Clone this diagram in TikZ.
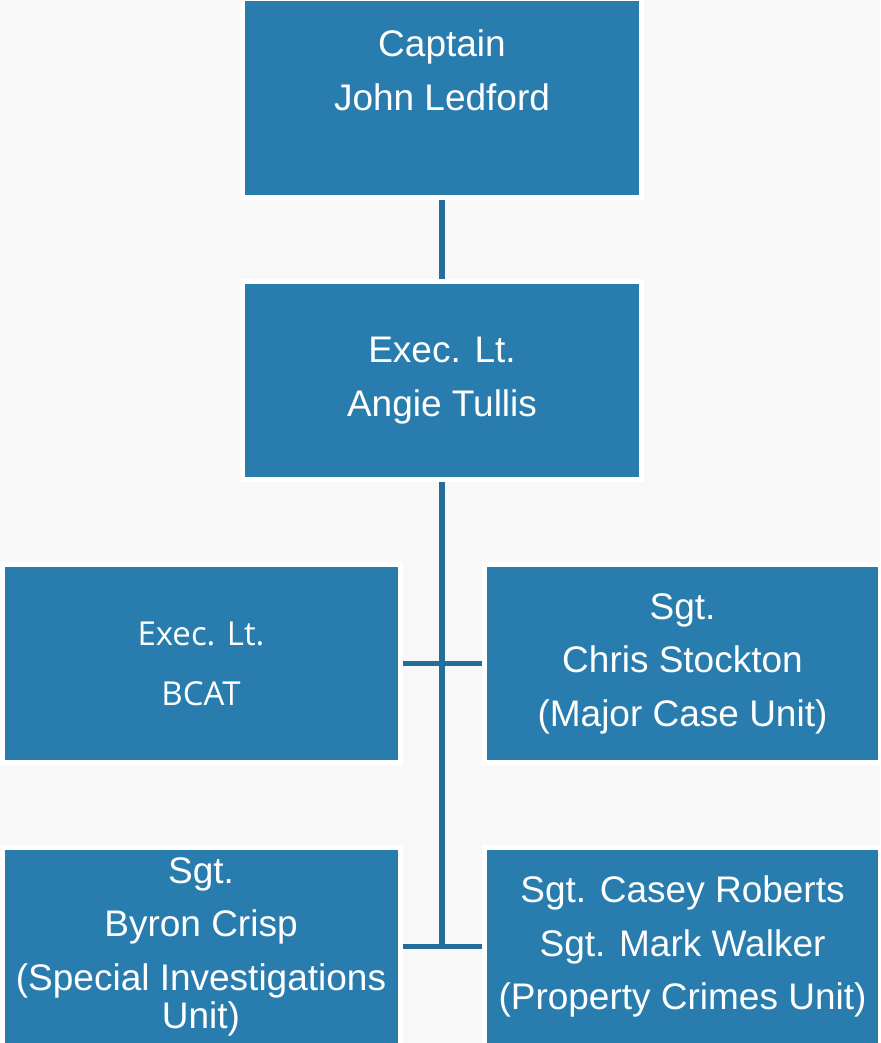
\documentclass[tikz,border=0pt]{standalone}
\usepackage{fontspec}
\setmainfont{Liberation Sans}
\newfontfamily\segoefont{Open Sans}
\usetikzlibrary{calc}
\definecolor{pagegray}{RGB}{248,248,248}
\definecolor{boxblue}{RGB}{41,125,174}
\definecolor{lineblue}{RGB}{35,110,155}
\tikzset{
  x=1pt, y=-1pt,
  orgbox/.style = {rectangle, align=center, inner sep=0pt, text centered, white,
    fill=boxblue, draw=white, line width=5pt,
    minimum width=399pt, minimum height=198pt,
    font=\fontsize{37}{53.5}\selectfont},
  orgbox_s/.style = {orgbox, minimum width=398pt,
    font=\segoefont\fontsize{33}{60}\selectfont},
  orglink/.style = {draw=lineblue, line width=5.5pt}
}
\begin{document}
\begin{tikzpicture}
	\useasboundingbox (0,0) rectangle (880,1043);
	\fill[pagegray] (0,0) rectangle (880,1043);
	% boxes
	\node [orgbox] (capt) at (442,98) {Captain\\John Ledford\\[-14pt]\strut};
	\node [orgbox] (exec) at (442,380.5) {Exec. Lt.\\Angie Tullis};
	\node [orgbox_s] (bcat) at (201,663.5) {Exec. Lt.\\BCAT};
	\node [orgbox, minimum width=396.5pt] (mcu) at (682.5,663.5) {Sgt.\\Chris Stockton\\(Major Case Unit)};
	\node [orgbox, minimum width=398pt] (siu) at (201,946.5) {Sgt.\\Byron Crisp\\(Special Investigations\\[-15.5pt]Unit)};
	\node [orgbox, minimum width=396.5pt] (pcu) at (682.5,946.5) {Sgt. Casey Roberts\\Sgt. Mark Walker\\(Property Crimes Unit)};
	% links
	\draw [orglink] (capt) -- (exec);
	\draw [orglink] (exec.south) -- (exec.south |- siu.east);
	\draw [orglink] (bcat) -- (mcu);
	\draw [orglink] (siu) -- (pcu);
\end{tikzpicture}
\end{document}
